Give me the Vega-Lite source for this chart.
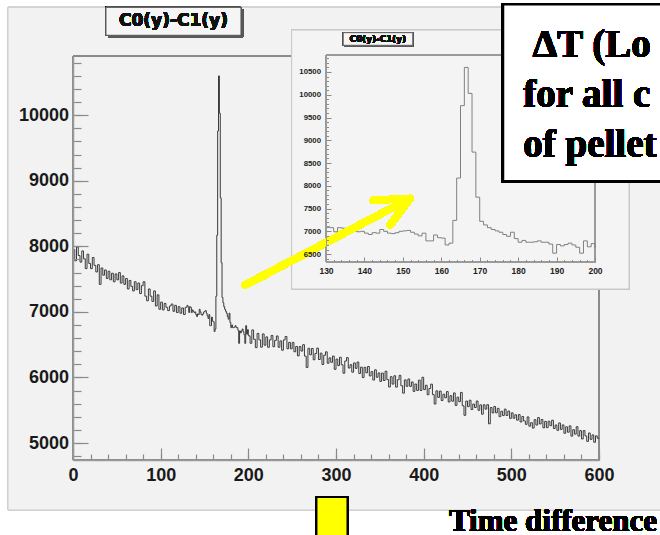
{
  "$schema": "https://vega.github.io/schema/vega-lite/v6.json",
  "width": 526,
  "height": 404,
  "autosize": {"type": "none"},
  "padding": {"left": 73, "top": 56, "right": 61, "bottom": 75},
  "background": "white",
  "config": {"view": {"stroke": null}, "axis": {"grid": false}},
  "datasets": {
    "hist": [
      {"t":0,"n":7950},{"t":2,"n":7780},{"t":4,"n":7990},{"t":6,"n":7860},{"t":8,"n":7760},{"t":10,"n":7930},{"t":12,"n":7810},{"t":14,"n":7660},{"t":16,"n":7880},{"t":18,"n":7740},
      {"t":20,"n":7660},{"t":22,"n":7830},{"t":24,"n":7710},{"t":26,"n":7610},{"t":28,"n":7720},{"t":30,"n":7420},{"t":32,"n":7670},{"t":34,"n":7560},{"t":36,"n":7640},{"t":38,"n":7510},
      {"t":40,"n":7620},{"t":42,"n":7490},{"t":44,"n":7590},{"t":46,"n":7460},{"t":48,"n":7580},{"t":50,"n":7490},{"t":52,"n":7600},{"t":54,"n":7440},{"t":56,"n":7550},{"t":58,"n":7420},
      {"t":60,"n":7510},{"t":62,"n":7350},{"t":64,"n":7480},{"t":66,"n":7390},{"t":68,"n":7320},{"t":70,"n":7460},{"t":72,"n":7340},{"t":74,"n":7440},{"t":76,"n":7280},{"t":78,"n":7400},
      {"t":80,"n":7460},{"t":82,"n":7240},{"t":84,"n":7170},{"t":86,"n":7350},{"t":88,"n":7240},{"t":90,"n":7160},{"t":92,"n":7320},{"t":94,"n":7090},{"t":96,"n":7260},{"t":98,"n":7040},
      {"t":100,"n":7150},{"t":102,"n":7030},{"t":104,"n":7130},{"t":106,"n":7070},{"t":108,"n":7020},{"t":110,"n":7090},{"t":112,"n":7120},{"t":114,"n":7010},{"t":116,"n":7100},{"t":118,"n":6990},
      {"t":120,"n":7080},{"t":122,"n":6980},{"t":124,"n":7060},{"t":126,"n":6960},{"t":128,"n":7070},
      {"t":130,"n":7100},{"t":131,"n":7080},{"t":132,"n":6990},{"t":133,"n":7080},{"t":134,"n":7070},{"t":135,"n":6990},{"t":136,"n":7030},{"t":137,"n":7010},{"t":138,"n":6990},{"t":139,"n":7000},
      {"t":140,"n":6960},{"t":141,"n":6930},{"t":142,"n":6970},{"t":143,"n":6960},{"t":144,"n":7040},{"t":145,"n":7000},{"t":146,"n":6960},{"t":147,"n":6950},{"t":148,"n":6970},{"t":149,"n":7000},
      {"t":150,"n":7010},{"t":151,"n":7020},{"t":152,"n":6980},{"t":153,"n":6940},{"t":154,"n":6900},{"t":155,"n":6960},{"t":156,"n":6790},{"t":157,"n":6790},{"t":158,"n":6920},{"t":159,"n":6860},
      {"t":160,"n":6850},{"t":161,"n":6700},{"t":162,"n":6740},{"t":163,"n":7240},{"t":164,"n":8170},{"t":165,"n":9760},{"t":166,"n":10600},{"t":167,"n":10030},{"t":168,"n":8740},{"t":169,"n":7750},
      {"t":170,"n":7220},{"t":171,"n":7140},{"t":172,"n":7080},{"t":173,"n":7040},{"t":174,"n":7010},{"t":175,"n":6980},{"t":176,"n":6930},{"t":177,"n":6890},{"t":178,"n":6980},{"t":179,"n":6840},
      {"t":180,"n":6760},{"t":181,"n":6800},{"t":182,"n":6760},{"t":183,"n":6760},{"t":184,"n":6770},{"t":185,"n":6790},{"t":186,"n":6760},{"t":187,"n":6760},{"t":188,"n":6720},{"t":189,"n":6520},
      {"t":190,"n":6710},{"t":191,"n":6680},{"t":192,"n":6710},{"t":193,"n":6740},{"t":194,"n":6700},{"t":195,"n":6650},{"t":196,"n":6520},{"t":197,"n":6790},{"t":198,"n":6660},{"t":199,"n":6730},
      {"t":200,"n":6635},{"t":202,"n":6522},{"t":204,"n":6725},{"t":206,"n":6582},{"t":208,"n":6455},{"t":210,"n":6672},{"t":212,"n":6574},{"t":214,"n":6462},{"t":216,"n":6664},{"t":218,"n":6492},
      {"t":220,"n":6619},{"t":222,"n":6461},{"t":224,"n":6574},{"t":226,"n":6641},{"t":228,"n":6469},{"t":230,"n":6566},{"t":232,"n":6633},{"t":234,"n":6461},{"t":236,"n":6558},{"t":238,"n":6416},
      {"t":240,"n":6573},{"t":242,"n":6625},{"t":244,"n":6438},{"t":246,"n":6535},{"t":248,"n":6438},{"t":250,"n":6535},{"t":252,"n":6392},{"t":254,"n":6473},{"t":256,"n":6330},{"t":258,"n":6472},
      {"t":260,"n":6403},{"t":262,"n":6500},{"t":264,"n":6326},{"t":266,"n":6153},{"t":268,"n":6445},{"t":270,"n":6346},{"t":272,"n":6443},{"t":274,"n":6270},{"t":276,"n":6366},{"t":278,"n":6448},
      {"t":280,"n":6274},{"t":282,"n":6371},{"t":284,"n":6198},{"t":286,"n":6339},{"t":288,"n":6391},{"t":290,"n":6217},{"t":292,"n":6299},{"t":294,"n":6231},{"t":296,"n":6327},{"t":298,"n":6124},
      {"t":300,"n":6280},{"t":302,"n":6181},{"t":304,"n":6308},{"t":306,"n":6194},{"t":308,"n":6065},{"t":310,"n":6251},{"t":312,"n":6303},{"t":314,"n":6144},{"t":316,"n":6195},{"t":318,"n":6081},
      {"t":320,"n":6222},{"t":322,"n":6139},{"t":324,"n":6235},{"t":326,"n":6061},{"t":328,"n":6157},{"t":330,"n":5998},{"t":332,"n":6155},{"t":334,"n":6071},{"t":336,"n":6167},{"t":338,"n":6023},
      {"t":340,"n":6089},{"t":342,"n":5961},{"t":344,"n":6117},{"t":346,"n":6003},{"t":348,"n":6069},{"t":350,"n":5940},{"t":352,"n":6067},{"t":354,"n":5954},{"t":356,"n":6096},{"t":358,"n":5968},
      {"t":360,"n":5855},{"t":362,"n":6012},{"t":364,"n":5899},{"t":366,"n":6026},{"t":368,"n":5853},{"t":370,"n":5965},{"t":372,"n":6032},{"t":374,"n":5874},{"t":376,"n":5761},{"t":378,"n":5963},
      {"t":380,"n":5865},{"t":382,"n":5977},{"t":384,"n":5864},{"t":386,"n":5931},{"t":388,"n":5788},{"t":390,"n":5900},{"t":392,"n":5802},{"t":394,"n":5959},{"t":396,"n":5801},{"t":398,"n":6003},
      {"t":400,"n":5815},{"t":402,"n":5881},{"t":404,"n":5737},{"t":406,"n":5832},{"t":408,"n":5898},{"t":410,"n":5739},{"t":412,"n":5595},{"t":414,"n":5796},{"t":416,"n":5696},{"t":418,"n":5792},
      {"t":420,"n":5648},{"t":422,"n":5744},{"t":424,"n":5690},{"t":426,"n":5785},{"t":428,"n":5626},{"t":430,"n":5722},{"t":432,"n":5638},{"t":434,"n":5764},{"t":436,"n":5574},{"t":438,"n":5700},
      {"t":440,"n":5631},{"t":442,"n":5772},{"t":444,"n":5568},{"t":446,"n":5423},{"t":448,"n":5639},{"t":450,"n":5555},{"t":452,"n":5653},{"t":454,"n":5511},{"t":456,"n":5594},{"t":458,"n":5542},
      {"t":460,"n":5641},{"t":462,"n":5499},{"t":464,"n":5582},{"t":466,"n":5440},{"t":468,"n":5583},{"t":470,"n":5517},{"t":472,"n":5585},{"t":474,"n":5293},{"t":476,"n":5541},{"t":478,"n":5459},
      {"t":480,"n":5558},{"t":482,"n":5461},{"t":484,"n":5529},{"t":486,"n":5402},{"t":488,"n":5485},{"t":490,"n":5419},{"t":492,"n":5517},{"t":494,"n":5420},{"t":496,"n":5488},{"t":498,"n":5376},
      {"t":500,"n":5460},{"t":502,"n":5378},{"t":504,"n":5431},{"t":506,"n":5349},{"t":508,"n":5433},{"t":510,"n":5321},{"t":512,"n":5404},{"t":514,"n":5337},{"t":516,"n":5285},{"t":518,"n":5398},
      {"t":520,"n":5257},{"t":522,"n":5310},{"t":524,"n":5228},{"t":526,"n":5356},{"t":528,"n":5274},{"t":530,"n":5388},{"t":532,"n":5291},{"t":534,"n":5359},{"t":536,"n":5232},{"t":538,"n":5330},
      {"t":540,"n":5234},{"t":542,"n":5332},{"t":544,"n":5265},{"t":546,"n":5348},{"t":548,"n":5221},{"t":550,"n":5275},{"t":552,"n":5193},{"t":554,"n":5306},{"t":556,"n":5208},{"t":558,"n":5276},
      {"t":560,"n":5149},{"t":562,"n":5247},{"t":564,"n":5165},{"t":566,"n":5262},{"t":568,"n":5105},{"t":570,"n":5203},{"t":572,"n":5136},{"t":574,"n":5249},{"t":576,"n":5106},{"t":578,"n":5189},
      {"t":580,"n":5062},{"t":582,"n":5190},{"t":584,"n":5108},{"t":586,"n":5025},{"t":588,"n":5153},{"t":590,"n":5056},{"t":592,"n":5124},{"t":594,"n":5012},{"t":596,"n":5109},{"t":598,"n":5072},
      {"t":600,"n":5072}
    ]
  },
  "data": {"name": "hist"},
  "resolve": {"scale": {"x": "independent", "y": "independent"}, "axis": {"x": "independent", "y": "independent"}},
  "layer": [
    {
      "resolve": {"axis": {"x": "independent", "y": "independent"}},
      "layer": [
        {
          "mark": {"type": "rect", "fill": "#f2f2f2", "stroke": "#d0d0d0", "strokeWidth": 1},
          "encoding": {
            "x": {"datum": -74.1, "type": "quantitative", "scale": {"domain": [0, 600], "nice": false, "zero": false}, "axis": null},
            "x2": {"datum": 700},
            "y": {"datum": 3979, "type": "quantitative", "scale": {"domain": [4741, 10904], "nice": false, "zero": false}, "axis": null},
            "y2": {"datum": 11646}
          }
        },
        {
          "mark": {"type": "rect", "fill": "transparent", "stroke": "#8a8a8a", "strokeWidth": 1},
          "encoding": {
            "x": {"datum": 0, "type": "quantitative", "scale": {"domain": [0, 600], "nice": false, "zero": false},
                  "axis": {"orient": "bottom", "values": [0,20,40,60,80,100,120,140,160,180,200,220,240,260,280,300,320,340,360,380,400,420,440,460,480,500,520,540,560,580,600], "labels": false, "domain": false, "tickSize": -6, "tickColor": "#8a8a8a", "tickWidth": 1.2, "title": null, "grid": false, "zindex": 1}},
            "x2": {"datum": 600},
            "y": {"datum": 4741, "type": "quantitative", "scale": {"domain": [4741, 10904], "nice": false, "zero": false},
                  "axis": {"orient": "left", "values": [4800,5000,5200,5400,5600,5800,6000,6200,6400,6600,6800,7000,7200,7400,7600,7800,8000,8200,8400,8600,8800,9000,9200,9400,9600,9800,10000,10200,10400,10600,10800], "labels": false, "domain": false, "tickSize": -8, "tickColor": "#8a8a8a", "tickWidth": 1.2, "title": null, "grid": false, "zindex": 1}},
            "y2": {"datum": 10904}
          }
        },
        {
          "mark": {"type": "line", "interpolate": "step-after", "color": "#3a3a3a", "strokeWidth": 1},
          "encoding": {
            "x": {"field": "t", "type": "quantitative", "scale": {"domain": [0, 600], "nice": false, "zero": false},
                  "axis": {"orient": "bottom", "values": [0,100,200,300,400,500,600], "format": "d", "tickSize": -12, "tickColor": "#8a8a8a", "tickWidth": 1.2, "domainColor": "#9a9a9a", "domainWidth": 1.5, "labelFont": "Liberation Sans", "labelFontWeight": "bold", "labelFontSize": 18, "labelColor": "#1a1a1a", "labelPadding": 18, "labelFlush": false, "labelOverlap": false, "title": null, "grid": false, "zindex": 1}},
            "y": {"field": "n", "type": "quantitative", "scale": {"domain": [4741, 10904], "nice": false, "zero": false},
                  "axis": {"orient": "left", "values": [5000,6000,7000,8000,9000,10000], "format": "d", "tickSize": -15, "tickColor": "#8a8a8a", "tickWidth": 1.2, "domainColor": "#9a9a9a", "domainWidth": 1.5, "labelFont": "Liberation Sans", "labelFontWeight": "bold", "labelFontSize": 18, "labelColor": "#1a1a1a", "labelPadding": 19.5, "labelOverlap": false, "title": null, "grid": false, "zindex": 1}}
          }
        },
        {
          "mark": {"type": "rect", "fill": "#5a5a5a"},
          "encoding": {
            "x": {"datum": 40, "type": "quantitative", "scale": {"domain": [0, 600], "nice": false, "zero": false}, "axis": null},
            "x2": {"datum": 194},
            "y": {"datum": 11190, "type": "quantitative", "scale": {"domain": [4741, 10904], "nice": false, "zero": false}, "axis": null},
            "y2": {"datum": 11616}
          }
        },
        {
          "mark": {"type": "rect", "fill": "#f5f5f5", "stroke": "#555555", "strokeWidth": 1},
          "encoding": {
            "x": {"datum": 37.6, "type": "quantitative", "scale": {"domain": [0, 600], "nice": false, "zero": false}, "axis": null},
            "x2": {"datum": 191.6},
            "y": {"datum": 11220, "type": "quantitative", "scale": {"domain": [4741, 10904], "nice": false, "zero": false}, "axis": null},
            "y2": {"datum": 11646}
          }
        },
        {
          "mark": {"type": "text", "text": "C0(y)-C1(y)", "font": "DejaVu Sans", "fontWeight": "bold", "fontSize": 17, "fill": "#111111", "strokeWidth": 0, "align": "center", "baseline": "middle"},
          "encoding": {
            "x": {"datum": 114.6, "type": "quantitative", "scale": {"domain": [0, 600], "nice": false, "zero": false}, "axis": null},
            "y": {"datum": 11433, "type": "quantitative", "scale": {"domain": [4741, 10904], "nice": false, "zero": false}, "axis": null}
          }
        }
      ]
    },
    {
      "resolve": {"axis": {"x": "independent", "y": "independent"}},
      "layer": [
        {
          "mark": {"type": "rect", "fill": "#f4f4f4", "stroke": "#c8c8c8", "strokeWidth": 1},
          "encoding": {
            "x": {"datum": 121.07, "type": "quantitative", "scale": {"domain": [130, 200], "range": [253, 522], "nice": false, "zero": false}, "axis": null},
            "x2": {"datum": 208.85},
            "y": {"datum": 5732, "type": "quantitative", "scale": {"domain": [6326, 10873], "range": [206, -1], "nice": false, "zero": false}, "axis": null},
            "y2": {"datum": 11422}
          }
        },
        {
          "mark": {"type": "rect", "fill": "transparent", "stroke": "#9a9a9a", "strokeWidth": 1},
          "encoding": {
            "x": {"datum": 130, "type": "quantitative", "scale": {"domain": [130, 200], "range": [253, 522], "nice": false, "zero": false},
                  "axis": {"orient": "bottom", "offset": -198, "values": [130,132,134,136,138,140,142,144,146,148,150,152,154,156,158,160,162,164,166,168,170,172,174,176,178,180,182,184,186,188,190,192,194,196,198,200], "labels": false, "domain": false, "tickSize": -2.5, "tickColor": "#8a8a8a", "title": null, "grid": false, "zindex": 1}},
            "x2": {"datum": 200},
            "y": {"datum": 6326, "type": "quantitative", "scale": {"domain": [6326, 10873], "range": [206, -1], "nice": false, "zero": false},
                  "axis": {"orient": "left", "offset": -253, "values": [6400,6500,6600,6700,6800,6900,7000,7100,7200,7300,7400,7500,7600,7700,7800,7900,8000,8100,8200,8300,8400,8500,8600,8700,8800,8900,9000,9100,9200,9300,9400,9500,9600,9700,9800,9900,10000,10100,10200,10300,10400,10500,10600,10700,10800], "labels": false, "domain": false, "tickSize": -2.5, "tickColor": "#8a8a8a", "title": null, "grid": false, "zindex": 1}},
            "y2": {"datum": 10873}
          }
        },
        {
          "transform": [{"filter": "datum.t >= 130 && datum.t <= 200"}],
          "mark": {"type": "line", "interpolate": "step-after", "color": "#808080", "strokeWidth": 1},
          "encoding": {
            "x": {"field": "t", "type": "quantitative", "scale": {"domain": [130, 200], "range": [253, 522], "nice": false, "zero": false},
                  "axis": {"orient": "bottom", "offset": -198, "values": [130,140,150,160,170,180,190,200], "format": "d", "tickSize": -5, "tickColor": "#8a8a8a", "domainColor": "#9a9a9a", "labelFont": "Liberation Sans", "labelFontWeight": "bold", "labelFontSize": 8.5, "labelColor": "#222222", "labelPadding": 9, "labelFlush": false, "labelOverlap": false, "title": null, "grid": false, "zindex": 1}},
            "y": {"field": "n", "type": "quantitative", "scale": {"domain": [6326, 10873], "range": [206, -1], "nice": false, "zero": false},
                  "axis": {"orient": "left", "offset": -253, "values": [6500,7000,7500,8000,8500,9000,9500,10000,10500], "format": "d", "tickSize": -5, "tickColor": "#8a8a8a", "domainColor": "#9a9a9a", "labelFont": "Liberation Sans", "labelFontWeight": "bold", "labelFontSize": 7.8, "labelColor": "#222222", "labelPadding": 10.5, "labelOverlap": false, "title": null, "grid": false, "zindex": 1}}
          }
        },
        {
          "mark": {"type": "rect", "fill": "#5a5a5a"},
          "encoding": {
            "x": {"datum": 134.8, "type": "quantitative", "scale": {"domain": [130, 200], "range": [253, 522], "nice": false, "zero": false}, "axis": null},
            "x2": {"datum": 152.85},
            "y": {"datum": 11064, "type": "quantitative", "scale": {"domain": [6326, 10873], "range": [206, -1], "nice": false, "zero": false}, "axis": null},
            "y2": {"datum": 11341}
          }
        },
        {
          "mark": {"type": "rect", "fill": "#f5f5f5", "stroke": "#555555", "strokeWidth": 0.8},
          "encoding": {
            "x": {"datum": 134.5, "type": "quantitative", "scale": {"domain": [130, 200], "range": [253, 522], "nice": false, "zero": false}, "axis": null},
            "x2": {"datum": 152.56},
            "y": {"datum": 11086, "type": "quantitative", "scale": {"domain": [6326, 10873], "range": [206, -1], "nice": false, "zero": false}, "axis": null},
            "y2": {"datum": 11363}
          }
        },
        {
          "mark": {"type": "text", "text": "C0(y)-C1(y)", "font": "DejaVu Sans", "fontWeight": "bold", "fontSize": 8.8, "fill": "#111111", "strokeWidth": 0, "align": "center", "baseline": "middle"},
          "encoding": {
            "x": {"datum": 143.5, "type": "quantitative", "scale": {"domain": [130, 200], "range": [253, 522], "nice": false, "zero": false}, "axis": null},
            "y": {"datum": 11222, "type": "quantitative", "scale": {"domain": [6326, 10873], "range": [206, -1], "nice": false, "zero": false}, "axis": null}
          }
        }
      ]
    },
    {
      "layer": [
        {
          "mark": {"type": "rule", "color": "#ffff00", "strokeWidth": 7, "strokeCap": "round"},
          "encoding": {
            "x": {"datum": 196.2, "type": "quantitative", "scale": {"domain": [0, 600], "nice": false, "zero": false}, "axis": null},
            "x2": {"datum": 384.4},
            "y": {"datum": 7408, "type": "quantitative", "scale": {"domain": [4741, 10904], "nice": false, "zero": false}, "axis": null},
            "y2": {"datum": 8730}
          }
        },
        {
          "mark": {"type": "rule", "color": "#ffff00", "strokeWidth": 7, "strokeCap": "round"},
          "encoding": {
            "x": {"datum": 342.5, "type": "quantitative", "scale": {"domain": [0, 600], "nice": false, "zero": false}, "axis": null},
            "x2": {"datum": 384.4},
            "y": {"datum": 8704, "type": "quantitative", "scale": {"domain": [4741, 10904], "nice": false, "zero": false}, "axis": null},
            "y2": {"datum": 8730}
          }
        },
        {
          "mark": {"type": "rule", "color": "#ffff00", "strokeWidth": 7, "strokeCap": "round"},
          "encoding": {
            "x": {"datum": 361.6, "type": "quantitative", "scale": {"domain": [0, 600], "nice": false, "zero": false}, "axis": null},
            "x2": {"datum": 384.4},
            "y": {"datum": 8323, "type": "quantitative", "scale": {"domain": [4741, 10904], "nice": false, "zero": false}, "axis": null},
            "y2": {"datum": 8730}
          }
        },
        {
          "mark": {"type": "rect", "fill": "white", "stroke": "black", "strokeWidth": 2.5},
          "encoding": {
            "x": {"datum": 490.5, "type": "quantitative", "scale": {"domain": [0, 600], "nice": false, "zero": false}, "axis": null},
            "x2": {"datum": 700},
            "y": {"datum": 8994, "type": "quantitative", "scale": {"domain": [4741, 10904], "nice": false, "zero": false}, "axis": null},
            "y2": {"datum": 11692}
          }
        },
        {
          "mark": {"type": "text", "text": "ΔT (Lo", "font": "Liberation Serif", "fontWeight": "bold", "fontSize": 39, "fill": "black", "strokeWidth": 0, "align": "left", "baseline": "alphabetic"},
          "encoding": {
            "x": {"datum": 524.4, "type": "quantitative", "scale": {"domain": [0, 600], "nice": false, "zero": false}, "axis": null},
            "y": {"datum": 10889, "type": "quantitative", "scale": {"domain": [4741, 10904], "nice": false, "zero": false}, "axis": null}
          }
        },
        {
          "mark": {"type": "text", "text": "for all c", "font": "Liberation Serif", "fontWeight": "bold", "fontSize": 39, "fill": "black", "strokeWidth": 0, "align": "left", "baseline": "alphabetic"},
          "encoding": {
            "x": {"datum": 513.6, "type": "quantitative", "scale": {"domain": [0, 600], "nice": false, "zero": false}, "axis": null},
            "y": {"datum": 10127, "type": "quantitative", "scale": {"domain": [4741, 10904], "nice": false, "zero": false}, "axis": null}
          }
        },
        {
          "mark": {"type": "text", "text": "of pellet", "font": "Liberation Serif", "fontWeight": "bold", "fontSize": 39, "fill": "black", "strokeWidth": 0, "align": "left", "baseline": "alphabetic"},
          "encoding": {
            "x": {"datum": 513.6, "type": "quantitative", "scale": {"domain": [0, 600], "nice": false, "zero": false}, "axis": null},
            "y": {"datum": 9364, "type": "quantitative", "scale": {"domain": [4741, 10904], "nice": false, "zero": false}, "axis": null}
          }
        },
        {
          "mark": {"type": "rect", "fill": "#ffff00", "stroke": "black", "strokeWidth": 2},
          "encoding": {
            "x": {"datum": 277.7, "type": "quantitative", "scale": {"domain": [0, 600], "nice": false, "zero": false}, "axis": null},
            "x2": {"datum": 313.1},
            "y": {"datum": 3521, "type": "quantitative", "scale": {"domain": [4741, 10904], "nice": false, "zero": false}, "axis": null},
            "y2": {"datum": 4177}
          }
        },
        {
          "mark": {"type": "text", "text": "Time difference", "font": "Liberation Serif", "fontWeight": "bold", "fontSize": 31, "fill": "black", "strokeWidth": 0, "align": "left", "baseline": "alphabetic"},
          "encoding": {
            "x": {"datum": 428.9, "type": "quantitative", "scale": {"domain": [0, 600], "nice": false, "zero": false}, "axis": null},
            "y": {"datum": 3659, "type": "quantitative", "scale": {"domain": [4741, 10904], "nice": false, "zero": false}, "axis": null}
          }
        }
      ]
    }
  ]
}
